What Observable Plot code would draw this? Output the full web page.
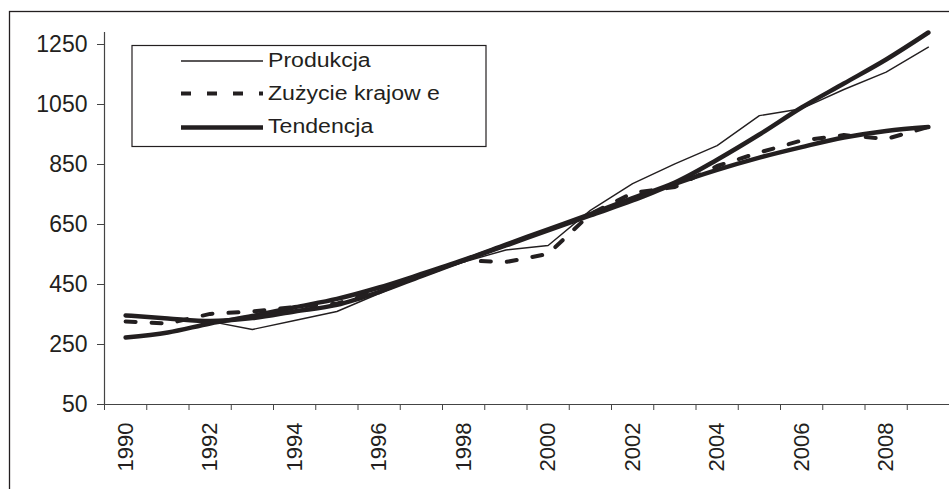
<!DOCTYPE html>
<html><head><meta charset="utf-8">
<script src="https://cdn.jsdelivr.net/npm/d3@7"></script>
<script src="https://cdn.jsdelivr.net/npm/@observablehq/plot@0.6"></script>
<style>
body{margin:0;background:#fff;}
#chart{position:relative;width:949px;height:489px;overflow:hidden;background:#fff;}
</style></head><body><div id="chart"></div>
<script>
const years = [1990,1991,1992,1993,1994,1995,1996,1997,1998,1999,2000,2001,2002,2003,2004,2005,2006,2007,2008,2009];
const produkcja = [345,337,327,300,330,360,420,478,525,565,580,697,786,852,913,1013,1036,1100,1158,1241];
const zuzycie = [327,320,352,360,375,386,430,480,530,525,552,685,755,775,845,890,930,948,935,975];
const trendProdukcja = [273,290,320,345,374,402,440,485,532,583,634,685,738,790,866,950,1040,1120,1200,1290];
const trendZuzycie = [347,337,328,338,360,382,425,478,530,580,630,680,730,785,832,873,908,940,962,975];
const yTicks = [50,250,450,650,850,1050,1250];
const xLabelYears = [1990,1992,1994,1996,1998,2000,2002,2004,2006,2008];
const legendLabels = ["Produkcja","Zużycie krajow e","Tendencja"];

const ink = "#231f20";
const font = "'Liberation Sans', Arial, sans-serif";
const rows = (vals) => years.map((y,i)=>({year:y, value:vals[i]}));
const boundaries = years.map(y=>y-0.5).concat([years[years.length-1]+0.5]);

const frameMark = () => {
  const g = d3.create("svg:g");
  g.append("rect").attr("x",9.5).attr("y",11.5).attr("width",1200).attr("height",1200)
    .attr("fill","none").attr("stroke",ink).attr("stroke-width",1.3);
  return g.node();
};

const legendMark = () => {
  const g = d3.create("svg:g").attr("font-family", font).attr("font-size", 21).attr("text-anchor","start");
  g.append("rect").attr("x",132).attr("y",45.5).attr("width",354).attr("height",101)
    .attr("fill","#fff").attr("stroke",ink).attr("stroke-width",1.2);
  const ys = [61, 93.5, 127.5];
  const baselines = [67, 100, 133];
  const styles = [
    {w:1.4, dash:null},
    {w:4, dash:"10 16"},
    {w:4.5, dash:null}
  ];
  legendLabels.forEach((lab,i)=>{
    g.append("line").attr("x1",181).attr("x2",263).attr("y1",ys[i]).attr("y2",ys[i])
      .attr("stroke",ink).attr("stroke-width",styles[i].w)
      .attr("stroke-dasharray",styles[i].dash);
    g.append("text").attr("transform",`translate(268,${baselines[i]}) scale(1.1,1)`)
      .attr("text-anchor","start").attr("fill",ink).text(lab);
  });
  return g.node();
};

const plot = Plot.plot({
  width:949, height:489,
  marginLeft:104, marginRight:0, marginTop:32, marginBottom:85,
  style:{fontFamily:font, fontSize:"22px", color:ink, background:"white", overflow:"hidden"},
  x:{type:"linear", domain:[years[0]-0.5, years[years.length-1]+0.5], label:null},
  y:{domain:[50,1290], label:null},
  marks:[
    frameMark,
    Plot.axisY({ticks:yTicks, tickSize:7, tickPadding:10, tickFormat:d=>String(d), label:null, stroke:"#444", fill:ink, fontSize:23}),
    Plot.axisX({ticks:boundaries, tickSize:6, tickFormat:()=>"", label:null, stroke:"#444"}),
    Plot.text(xLabelYears, {x:d=>d, text:d=>String(d), frameAnchor:"bottom", dy:18, rotate:-90, textAnchor:"end", lineAnchor:"middle", fontSize:22, fill:ink}),
    Plot.ruleX([years[0]-0.5], {stroke:"#444", strokeWidth:1.2}),
    Plot.ruleY([50], {stroke:"#444", strokeWidth:1.2}),
    Plot.line(rows(trendProdukcja), {x:"year", y:"value", stroke:ink, strokeWidth:4.5, curve:"monotone-x"}),
    Plot.line(rows(trendZuzycie), {x:"year", y:"value", stroke:ink, strokeWidth:4.5, curve:"monotone-x"}),
    Plot.line(rows(produkcja), {x:"year", y:"value", stroke:ink, strokeWidth:1.4}),
    Plot.line(rows(zuzycie), {x:"year", y:"value", stroke:ink, strokeWidth:4, strokeDasharray:"10 16"}),
    legendMark
  ]
});
document.getElementById("chart").appendChild(plot);
</script></body></html>
